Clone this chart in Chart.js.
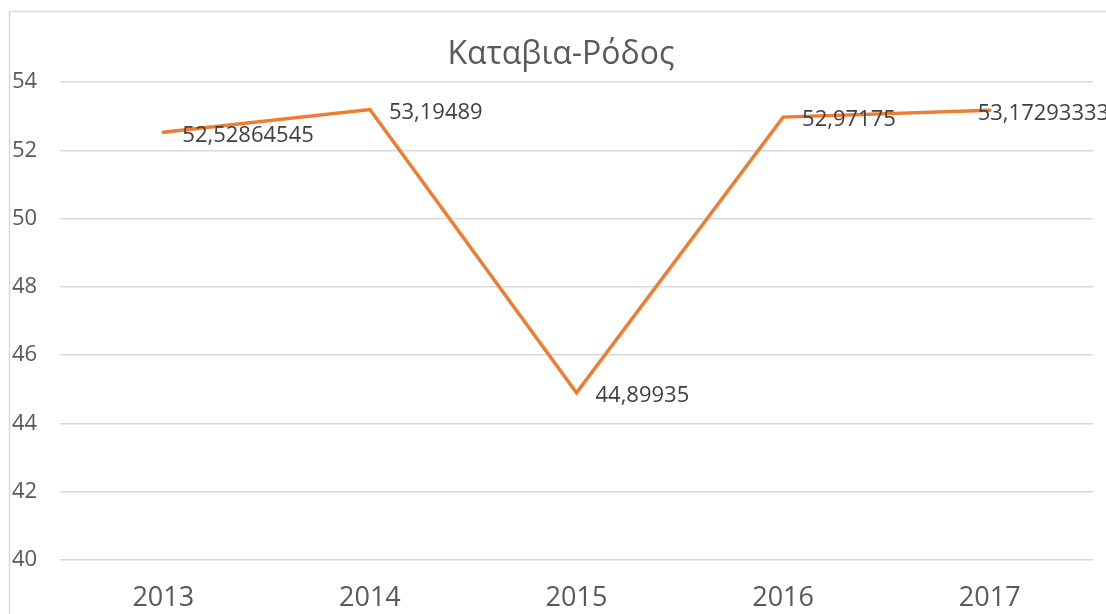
<!DOCTYPE html>
<html>
<head>
<meta charset="utf-8">
<script src="https://cdn.jsdelivr.net/npm/chart.js@4"></script>
<style>
  body { margin: 0; background: #fff; }
  canvas { display: block; }
</style>
</head>
<body>
<canvas id="chart" width="1106" height="614"></canvas>
<script>
const chartTitle = "Καταβια-Ρόδος";
const years = ["2013", "2014", "2015", "2016", "2017"];
const values = [52.52864545, 53.19489, 44.89935, 52.97175, 53.17293333];
const valueLabels = ["52,52864545", "53,19489", "44,89935", "52,97175", "53,17293333"];

const FONT = "'Open Sans', sans-serif";

// frame + title, drawn by hand so the title sits where Excel puts it
const frameAndTitle = {
  id: "frameAndTitle",
  beforeDraw(chart) {
    const ctx = chart.ctx;
    ctx.save();
    ctx.strokeStyle = "#d9d9d9";
    ctx.lineWidth = 1.5;
    ctx.strokeRect(9.5, 11.5, 1300, 800);
    ctx.fillStyle = "#595959";
    ctx.font = "32px " + FONT;
    ctx.textAlign = "center";
    ctx.textBaseline = "middle";
    ctx.fillText(chartTitle, 561, 55);
    ctx.restore();
  }
};

// value labels to the right of each point; pulled back a bit if they run off the chart
const pointLabels = {
  id: "pointLabels",
  afterDatasetsDraw(chart) {
    const ctx = chart.ctx;
    const meta = chart.getDatasetMeta(0);
    ctx.save();
    ctx.fillStyle = "#404040";
    ctx.font = "22px " + FONT;
    ctx.textAlign = "left";
    ctx.textBaseline = "middle";
    meta.data.forEach((pt, i) => {
      const w = ctx.measureText(valueLabels[i]).width;
      let x = pt.x + 19;
      if (x + w > chart.width) x = pt.x - 12;
      ctx.fillText(valueLabels[i], x, pt.y + 3);
    });
    ctx.restore();
  }
};

new Chart(document.getElementById("chart"), {
  type: "line",
  data: {
    labels: years,
    datasets: [
      {
        label: chartTitle,
        data: values,
        borderColor: "#ED7D31",
        borderWidth: 3.5,
        pointRadius: 0,
        tension: 0,
        borderCapStyle: "round",
      },
    ],
  },
  options: {
    responsive: false,
    animation: false,
    layout: {
      padding: { left: 12, right: 13, top: 82, bottom: 0 },
    },
    plugins: {
      legend: { display: false },
      title: { display: false },
      tooltip: { enabled: false },
    },
    scales: {
      x: {
        offset: true,
        grid: { display: false, drawTicks: false },
        border: { display: false },
        ticks: {
          color: "#595959",
          font: { family: FONT, size: 27 },
          padding: 22,
          maxRotation: 0,
        },
        afterFit(scale) {
          scale.height = 54;
        },
      },
      y: {
        min: 40,
        max: 54,
        grid: { color: "#d9d9d9", lineWidth: 1.5, drawTicks: false },
        border: { display: false },
        ticks: {
          stepSize: 2,
          color: "#595959",
          crossAlign: "far",
          font: { family: FONT, size: 22 },
        },
        afterFit(scale) {
          scale.width = 48;
        },
      },
    },
  },
  plugins: [frameAndTitle, pointLabels],
});
</script>
</body>
</html>
